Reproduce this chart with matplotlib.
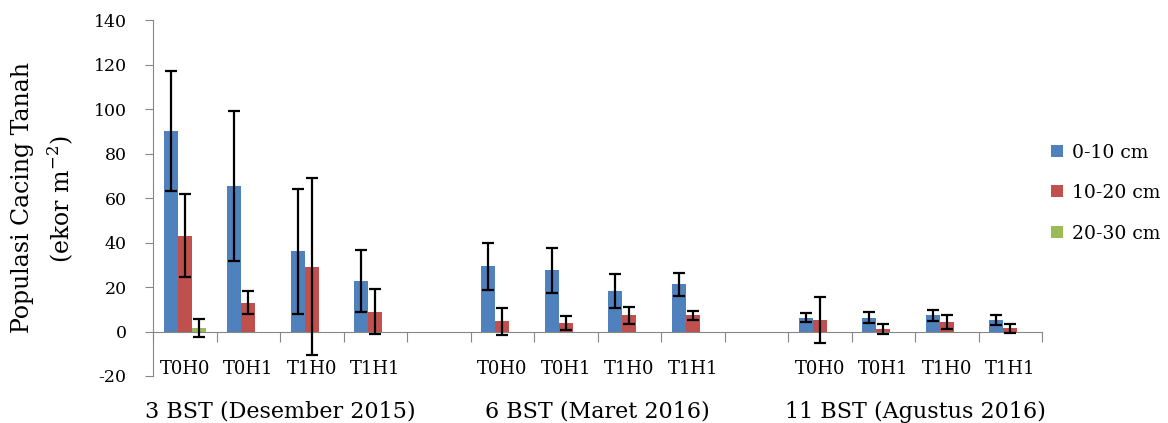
import numpy as np
import matplotlib.pyplot as plt
from matplotlib.transforms import blended_transform_factory

## data
groups = ['3 BST (Desember 2015)', '6 BST (Maret 2016)', '11 BST (Agustus 2016)']
treatments = ['T0H0', 'T0H1', 'T1H0', 'T1H1']
series = ['0-10 cm', '10-20 cm', '20-30 cm']

# mean population per treatment (3 groups x 4 treatments)
depth_0_10 = [90.0, 65.5, 36.0, 22.7, 29.3, 27.5, 18.2, 21.2, 6.2, 6.2, 7.2, 5.0]
err_0_10 = [27.0, 33.7, 28.2, 13.8, 10.5, 10.0, 7.7, 5.3, 2.0, 2.5, 2.5, 2.3]
depth_10_20 = [43.0, 13.0, 29.2, 8.9, 4.5, 3.8, 7.2, 7.2, 5.0, 1.3, 4.2, 1.4]
err_10_20 = [18.6, 5.2, 39.8, 10.2, 5.9, 3.0, 3.7, 2.0, 10.3, 2.2, 3.2, 2.0]
depth_20_30 = [1.7, 0, 0, 0, 0, 0, 0, 0, 0, 0, 0, 0]
err_20_30 = [4.0] + [np.nan] * 11

colors = ['#4F81BD', '#C0504D', '#9BBB59']
axis_grey = '#868686'

plt.rcParams['font.family'] = 'DejaVu Serif'
plt.rcParams['axes.unicode_minus'] = False

# slot positions: 4 treatments per group, one empty slot between groups
slots = np.array([g * 5 + t for g in range(len(groups)) for t in range(len(treatments))])
w = 0.22

fig = plt.figure(figsize=(11.68, 4.23), dpi=100)
ax = fig.add_axes([153 / 1168, 1 - 376 / 423, (1042 - 153) / 1168, (376 - 20) / 423])

vals = [depth_0_10, depth_10_20, depth_20_30]
errs = [err_0_10, err_10_20, err_20_30]
for k, (v, e, c, lbl) in enumerate(zip(vals, errs, colors, series)):
    x = slots + (k - 1) * w
    ax.bar(x, v, width=w, color=c, label=lbl, zorder=2)
    ax.errorbar(x, v, yerr=e, fmt='none', ecolor='black', elinewidth=1.6,
                capsize=4.5, capthick=1.6, zorder=3)

## formatting
ax.set_xlim(-0.5, 13.5)
ax.set_ylim(-20, 140)
ax.set_yticks(np.arange(-20, 141, 20))
ax.tick_params(axis='y', labelsize=12.5, length=6, color=axis_grey, pad=13)

for s in ['top', 'right']:
    ax.spines[s].set_visible(False)
ax.spines['left'].set_color(axis_grey)
ax.spines['bottom'].set_position(('data', 0))
ax.spines['bottom'].set_color(axis_grey)
ax.set_xticks(np.arange(-0.5, 13.6, 1.0))
ax.set_xticklabels([])
ax.tick_params(axis='x', length=7, color=axis_grey, direction='out')

trans = blended_transform_factory(ax.transData, ax.transAxes)
for i, s in enumerate(slots):
    ax.text(s, 0.02, treatments[i % 4], transform=trans, ha='center', va='center',
            fontsize=13)
for g, name in enumerate(groups):
    ax.text(g * 5 + 1.5, -0.1, name, transform=trans, ha='center', va='center',
            fontsize=16)

fig.text(23 / 1168, 0.534, 'Populasi Cacing Tanah', rotation=90,
         ha='center', va='center', fontsize=17)
fig.text(60 / 1168, 0.53, r'(ekor m$^{\mathregular{-2}}$)', rotation=90,
         ha='center', va='center', fontsize=17)

leg = ax.legend(loc='center left', bbox_to_anchor=(1.0, 0.514), frameon=False,
                fontsize=13.5, handlelength=0.6, handleheight=0.6,
                handletextpad=0.5, labelspacing=1.2, borderaxespad=0.1)

fig.savefig('out.png', dpi=100)
